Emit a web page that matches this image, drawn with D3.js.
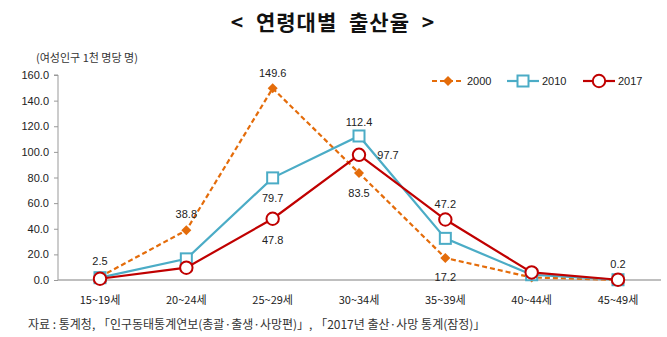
<!DOCTYPE html>
<html>
<head>
<meta charset="utf-8">
<script src="https://cdn.jsdelivr.net/npm/d3@7"></script>
<style>
  body { margin: 0; background: #fff; }
  text { font-family: "Noto Sans CJK KR", "Malgun Gothic", sans-serif; }
</style>
</head>
<body>
<svg id="chart" width="667" height="337"></svg>
<script>
// age groups and birth rates per 1,000 women
const ageGroups = ['15~19세', '20~24세', '25~29세', '30~34세', '35~39세', '40~44세', '45~49세'];
const rates2000 = [2.5, 38.8, 149.6, 83.5, 17.2, 2.0, 0.1];
const rates2010 = [1.8, 16.5, 79.7, 112.4, 32.5, 4.1, 0.2];
const rates2017 = [1.0, 9.6, 47.8, 97.7, 47.2, 5.9, 0.2];
const yTicks = [0, 20, 40, 60, 80, 100, 120, 140, 160];

// labelled points: series, index, dx, dy
const valueLabels = [
  ['2000', 0, 0, -16],
  ['2000', 1, 0, -16],
  ['2000', 2, 0, -15],
  ['2010', 2, 0, 20],
  ['2017', 2, 0, 21],
  ['2010', 3, 0, -14],
  ['2017', 3, 29, 0],
  ['2000', 3, 0, 20],
  ['2017', 4, 0, -16],
  ['2000', 4, 0, 19],
  ['2017', 6, 0, -16]
];

const series = [
  { name: '2000', values: rates2000, color: '#E46C0A', dash: '5,3', marker: 'diamond' },
  { name: '2010', values: rates2010, color: '#4BACC6', dash: null, marker: 'square' },
  { name: '2017', values: rates2017, color: '#C00000', dash: null, marker: 'circle' }
];

const svg = d3.select('#chart');
const margin = { left: 58, right: 661, top: 75, bottom: 280 };

const x = d3.scalePoint()
  .domain(ageGroups)
  .range([100, 618]);

const y = d3.scaleLinear()
  .domain([0, 160])
  .range([margin.bottom, margin.top]);

// title
svg.append('text')
  .attr('x', 333)
  .attr('y', 30)
  .attr('text-anchor', 'middle')
  .attr('font-size', 21)
  .attr('font-weight', 'bold')
  .attr('fill', '#111')
  .style('letter-spacing', '1px')
  .style('word-spacing', '6px')
  .text('< 연령대별 출산율 >');

svg.append('text')
  .attr('x', 36)
  .attr('y', 62)
  .attr('font-size', 11)
  .attr('fill', '#333')
  .text('(여성인구 1천 명당 명)');

// y axis
const yAxis = svg.append('g')
  .attr('transform', 'translate(' + margin.left + ',0)')
  .call(d3.axisLeft(y).tickValues(yTicks).tickSize(4).tickFormat(d3.format('.1f')));
yAxis.select('.domain').attr('stroke', '#999').attr('d', 'M-4,' + y(160) + 'H0V' + y(0));
yAxis.selectAll('.tick line').attr('stroke', '#999');
yAxis.selectAll('.tick text')
  .attr('x', -9)
  .attr('font-size', 11)
  .attr('fill', '#222')
  .style('font-family', '"Liberation Sans", Arial, sans-serif');

// x axis
svg.append('line')
  .attr('x1', margin.left)
  .attr('x2', margin.right)
  .attr('y1', y(0))
  .attr('y2', y(0))
  .attr('stroke', '#aaa')
  .attr('stroke-width', 1.5);

svg.selectAll('text.cat')
  .data(ageGroups)
  .enter()
  .append('text')
  .attr('class', 'cat')
  .attr('x', function(d) { return x(d); })
  .attr('y', 304)
  .attr('text-anchor', 'middle')
  .attr('font-size', 11)
  .attr('fill', '#222')
  .text(function(d) { return d; });

const line = d3.line()
  .x(function(d, i) { return x(ageGroups[i]); })
  .y(function(d) { return y(d); });

function drawMarker(g, type, color, cx, cy) {
  if (type === 'diamond') {
    g.append('path')
      .attr('d', 'M' + cx + ',' + (cy - 5) + 'L' + (cx + 5) + ',' + cy + 'L' + cx + ',' + (cy + 5) + 'L' + (cx - 5) + ',' + cy + 'Z')
      .attr('fill', color);
  } else if (type === 'square') {
    g.append('rect')
      .attr('x', cx - 5.5)
      .attr('y', cy - 5.5)
      .attr('width', 11)
      .attr('height', 11)
      .attr('fill', '#fff')
      .attr('stroke', color)
      .attr('stroke-width', 2);
  } else {
    g.append('circle')
      .attr('cx', cx)
      .attr('cy', cy)
      .attr('r', 6.2)
      .attr('fill', '#fff')
      .attr('stroke', color)
      .attr('stroke-width', 2);
  }
}

series.forEach(function(s) {
  const g = svg.append('g');
  g.append('path')
    .datum(s.values)
    .attr('d', line)
    .attr('fill', 'none')
    .attr('stroke', s.color)
    .attr('stroke-width', 2.2)
    .attr('stroke-dasharray', s.dash);
  s.values.forEach(function(v, i) {
    drawMarker(g, s.marker, s.color, x(ageGroups[i]), y(v));
  });
});

// value labels
const byName = {};
series.forEach(function(s) { byName[s.name] = s; });
valueLabels.forEach(function(l) {
  const s = byName[l[0]];
  const v = s.values[l[1]];
  svg.append('text')
    .attr('x', x(ageGroups[l[1]]) + l[2])
    .attr('y', y(v) + l[3] + 4)
    .attr('text-anchor', 'middle')
    .attr('font-size', 11)
    .attr('fill', '#222')
    .style('font-family', '"Liberation Sans", Arial, sans-serif')
    .text(v.toFixed(1));
});

// legend
const legendX = [432, 507, 583];
series.forEach(function(s, i) {
  const lg = svg.append('g');
  const lx = legendX[i];
  const ly = 81;
  lg.append('line')
    .attr('x1', lx)
    .attr('x2', lx + 32)
    .attr('y1', ly)
    .attr('y2', ly)
    .attr('stroke', s.color)
    .attr('stroke-width', 2.2)
    .attr('stroke-dasharray', s.dash);
  drawMarker(lg, s.marker, s.color, lx + 16, ly);
  lg.append('text')
    .attr('x', lx + 35)
    .attr('y', ly + 4)
    .attr('font-size', 11)
    .attr('fill', '#222')
    .style('font-family', '"Liberation Sans", Arial, sans-serif')
    .text(s.name);
});

// source note
svg.append('text')
  .attr('x', 28)
  .attr('y', 329)
  .attr('font-size', 12)
  .attr('fill', '#333')
  .text('자료 : 통계청, 「인구동태통계연보(총괄·출생·사망편)」, 「2017년 출산·사망 통계(잠정)」');
</script>
</body>
</html>
